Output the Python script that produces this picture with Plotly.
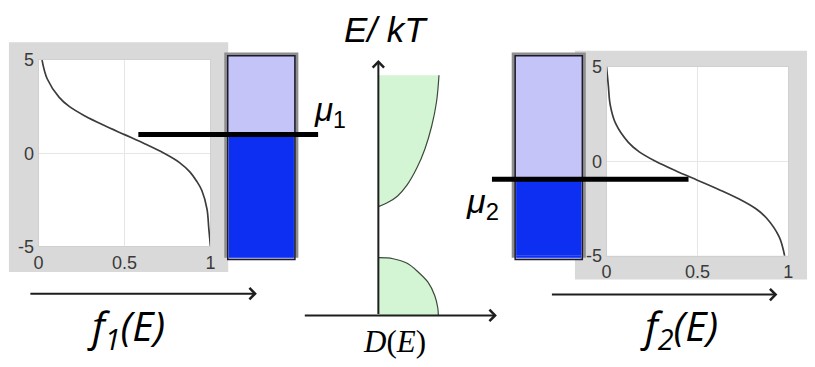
import plotly.graph_objects as go

W, H = 815, 367

# ---------------- data ----------------
E_levels1 = [5, 4, 3, 2.5, 2, 1.5, 1, 0.5, 0, -0.5, -1, -1.5, -2, -3, -4, -5]
f1_values = [0.02, 0.05, 0.12, 0.18, 0.27, 0.38, 0.5, 0.62, 0.73, 0.82, 0.88, 0.92, 0.95, 0.98, 0.99, 1.0]

E_levels2 = [5, 4, 3, 2, 1, 0.5, 0, -0.5, -1, -1.5, -2, -2.5, -3, -4, -5]
f2_values = [0.0, 0.01, 0.02, 0.05, 0.12, 0.18, 0.27, 0.38, 0.5, 0.62, 0.73, 0.82, 0.88, 0.95, 0.98]

mu1 = 1.0
mu2 = -0.95

E_ticks = [-5, 0, 5]
E_tick_labels = ["-5", "0", "5"]
f_ticks = [0, 0.5, 1]
f_tick_labels = ["0", "0.5", "1"]

# density of states sketch (centre panel)
cb_E = [4.26, 4.41, 4.67, 5.11, 5.78, 6.52, 7.41, 8.37, 9.41]
cb_D = [0.0, 0.145, 0.31, 0.47, 0.63, 0.76, 0.87, 0.95, 0.99]
vb_E = [2.26, 2.22, 2.04, 1.70, 1.30, 0.78, 0.30, 0.0]
vb_D = [0.0, 0.24, 0.47, 0.65, 0.81, 0.92, 0.97, 0.98]


# ---------------- helpers ----------------
def X(px):
    return px / W


def Y(py):
    return 1 - py / H


# panel geometry (pixels)
L_PLOT = dict(x0=34, x1=208, y0=53, y1=250)
R_PLOT = dict(x0=609, x1=793, y0=60, y1=260)
C_PLOT = dict(x0=302, x1=498, y0=53, y1=323)
D_UNIT = 62.0  # pixels per D unit
C_XRANGE = [(C_PLOT["x0"] - 378) / D_UNIT, (C_PLOT["x1"] - 378) / D_UNIT]

GRAY = "#d9d9d9"
LAV = "#c4c4f8"
BLUE = "#0d2ff2"
GREEN = "#d3f5d3"
CURVE = "#3c3c3c"
TICKFONT = dict(family="Liberation Sans, Arial", size=18, color="#3a3a3a")

fig = go.Figure()

# Fermi functions
fig.add_trace(go.Scatter(x=f1_values, y=E_levels1, mode="lines",
                         line=dict(color=CURVE, width=1.7, shape="spline", smoothing=1.0),
                         xaxis="x", yaxis="y", hoverinfo="skip", showlegend=False))
fig.add_trace(go.Scatter(x=f2_values, y=E_levels2, mode="lines",
                         line=dict(color=CURVE, width=1.7, shape="spline", smoothing=1.0),
                         xaxis="x2", yaxis="y2", hoverinfo="skip", showlegend=False))

# DOS bands
top_E = cb_E[-1]
fig.add_trace(go.Scatter(x=cb_D + [0, 0], y=cb_E + [top_E, cb_E[0]], mode="lines",
                         fill="toself", fillcolor=GREEN, line=dict(width=0, color=GREEN),
                         xaxis="x3", yaxis="y3", hoverinfo="skip", showlegend=False))
fig.add_trace(go.Scatter(x=cb_D, y=cb_E, mode="lines",
                         line=dict(color="#3a4a3a", width=1.2, shape="spline"),
                         xaxis="x3", yaxis="y3", hoverinfo="skip", showlegend=False))
fig.add_trace(go.Scatter(x=vb_D + [0, 0], y=vb_E + [0, vb_E[0]], mode="lines",
                         fill="toself", fillcolor=GREEN, line=dict(width=0, color=GREEN),
                         xaxis="x3", yaxis="y3", hoverinfo="skip", showlegend=False))
fig.add_trace(go.Scatter(x=vb_D, y=vb_E, mode="lines",
                         line=dict(color="#3a4a3a", width=1.2, shape="spline"),
                         xaxis="x3", yaxis="y3", hoverinfo="skip", showlegend=False))

shapes = []
# gray panels + white plot areas (below)
shapes.append(dict(type="rect", xref="paper", yref="paper", x0=X(4), x1=X(226), y0=Y(277), y1=Y(34),
                   fillcolor=GRAY, line=dict(width=0), layer="below"))
shapes.append(dict(type="rect", xref="paper", yref="paper", x0=X(577), x1=X(812), y0=Y(285), y1=Y(43),
                   fillcolor=GRAY, line=dict(width=0), layer="below"))
for p in (L_PLOT, R_PLOT):
    shapes.append(dict(type="rect", xref="paper", yref="paper", x0=X(p["x0"]), x1=X(p["x1"]),
                       y0=Y(p["y1"]), y1=Y(p["y0"]), fillcolor="white", line=dict(width=0), layer="below"))


def contact(Lpx, Rpx, Tpx, Bpx, yref, mu, plot, line_x0, line_x1):
    out = []
    out.append(dict(type="rect", xref="paper", yref="paper", x0=X(Lpx), x1=X(Rpx), y0=Y(Bpx), y1=Y(Tpx),
                    fillcolor="#8e8e8e", line=dict(width=0), layer="above"))
    out.append(dict(type="rect", xref="paper", yref="paper", x0=X(Lpx + 3.5), x1=X(Rpx - 3.5),
                    y0=Y(Bpx + 2), y1=Y(Tpx + 3.5), fillcolor=LAV, line=dict(width=1.5, color="#1a1a2a"),
                    layer="above"))
    bx0, bx1 = X(Lpx + 4.5), X(Rpx - 4.5)
    # occupied states: from the bottom of the energy axis up to mu (data coordinates)
    out.append(dict(type="rect", xref="paper", yref=yref, x0=bx0, x1=bx1,
                    y0=-5, y1=mu, fillcolor=BLUE, line=dict(width=0), layer="above"))
    # the part of the reservoir below the energy axis range
    out.append(dict(type="rect", xref="paper", yref="paper", x0=bx0, x1=bx1,
                    y0=Y(Bpx), y1=Y(plot["y1"]) + 0.001, fillcolor=BLUE, line=dict(width=0), layer="above"))
    out.append(dict(type="line", xref="paper", yref=yref, x0=X(line_x0), x1=X(line_x1), y0=mu, y1=mu,
                    line=dict(width=5, color="black"), layer="above"))
    return out


shapes += contact(222, 297, 45, 262, "y", mu1, L_PLOT, 135, 317)
shapes += contact(513, 588, 45, 262, "y2", mu2, R_PLOT, 493, 692)

annotations = []
ARROW = dict(showarrow=True, arrowhead=4, arrowsize=1.1, arrowwidth=2, arrowcolor="#1e1e1e", text="")
# centre axes
annotations.append(dict(x=C_XRANGE[1], y=0, ax=C_XRANGE[0], ay=0, xref="x3", yref="y3",
                        axref="x3", ayref="y3", **ARROW))
annotations.append(dict(x=0, y=10, ax=0, ay=0, xref="x3", yref="y3",
                        axref="x3", ayref="y3", **ARROW))
# f axes arrows
annotations.append(dict(x=X(255), y=Y(300), ax=-228, ay=0, xref="paper", yref="paper", **ARROW))
annotations.append(dict(x=X(782), y=Y(301), ax=-227, ay=0, xref="paper", yref="paper", **ARROW))

TXT = dict(xref="paper", yref="paper", showarrow=False, xanchor="center", yanchor="middle")
BIG = dict(family="Open Sans, Liberation Sans", size=41, color="black")
annotations.append(dict(x=X(122), y=Y(336), text="<i>f</i><sub><i>1</i></sub><i>(E)</i>", font=BIG, **TXT))
annotations.append(dict(x=X(682), y=Y(336), text="<i>f</i><sub><i>2</i></sub><i>(E)</i>", font=BIG, **TXT))
annotations.append(dict(x=X(386), y=Y(21), text="<i>E/ kT</i>",
                        font=dict(family="Liberation Sans, Arial", size=35, color="black"), **TXT))
annotations.append(dict(x=X(394), y=Y(351), text="<i>D</i>(<i>E</i>)",
                        font=dict(family="Liberation Serif", size=31, color="black"), **TXT))
annotations.append(dict(x=X(329), y=Y(108), text="<i>μ</i><sub>1</sub>",
                        font=dict(family="Liberation Sans, Arial", size=33, color="black"), **TXT))
annotations.append(dict(x=X(483), y=Y(205), text="<i>μ</i><sub>2</sub>",
                        font=dict(family="Liberation Sans, Arial", size=34, color="black"), **TXT))


def faxis(domain_px, anchor):
    return dict(domain=[X(domain_px[0]), X(domain_px[1])], range=[0, 1], anchor=anchor,
                tickvals=f_ticks, ticktext=f_tick_labels, showgrid=True, gridcolor="#e6e6e6",
                zeroline=False, showline=True, mirror=True, linecolor="#d0d0d0", linewidth=1,
                ticks="", tickfont=TICKFONT, fixedrange=True)


def eaxis(domain_px, anchor):
    return dict(domain=[Y(domain_px[1]), Y(domain_px[0])], range=[-5, 5], anchor=anchor,
                tickvals=E_ticks, ticktext=E_tick_labels, showgrid=True, gridcolor="#e6e6e6",
                zeroline=False, showline=True, mirror=True, linecolor="#d0d0d0", linewidth=1,
                ticks="", tickfont=TICKFONT, fixedrange=True)


fig.update_layout(
    width=W, height=H, margin=dict(l=0, r=0, t=0, b=0),
    paper_bgcolor="white", plot_bgcolor="rgba(0,0,0,0)",
    showlegend=False,
    xaxis=faxis((L_PLOT["x0"], L_PLOT["x1"]), "y"),
    yaxis=eaxis((L_PLOT["y0"], L_PLOT["y1"]), "x"),
    xaxis2=faxis((R_PLOT["x0"], R_PLOT["x1"]), "y2"),
    yaxis2=eaxis((R_PLOT["y0"], R_PLOT["y1"]), "x2"),
    xaxis3=dict(domain=[X(C_PLOT["x0"]), X(C_PLOT["x1"])], range=C_XRANGE, anchor="y3",
                visible=False, fixedrange=True),
    yaxis3=dict(domain=[Y(C_PLOT["y1"]), Y(C_PLOT["y0"])], range=[0, 10], anchor="x3",
                visible=False, fixedrange=True),
    shapes=shapes, annotations=annotations,
)

fig.write_html("out.html", config={"displayModeBar": False},
               post_script="document.body.style.margin='0px';document.body.style.overflow='hidden';")
